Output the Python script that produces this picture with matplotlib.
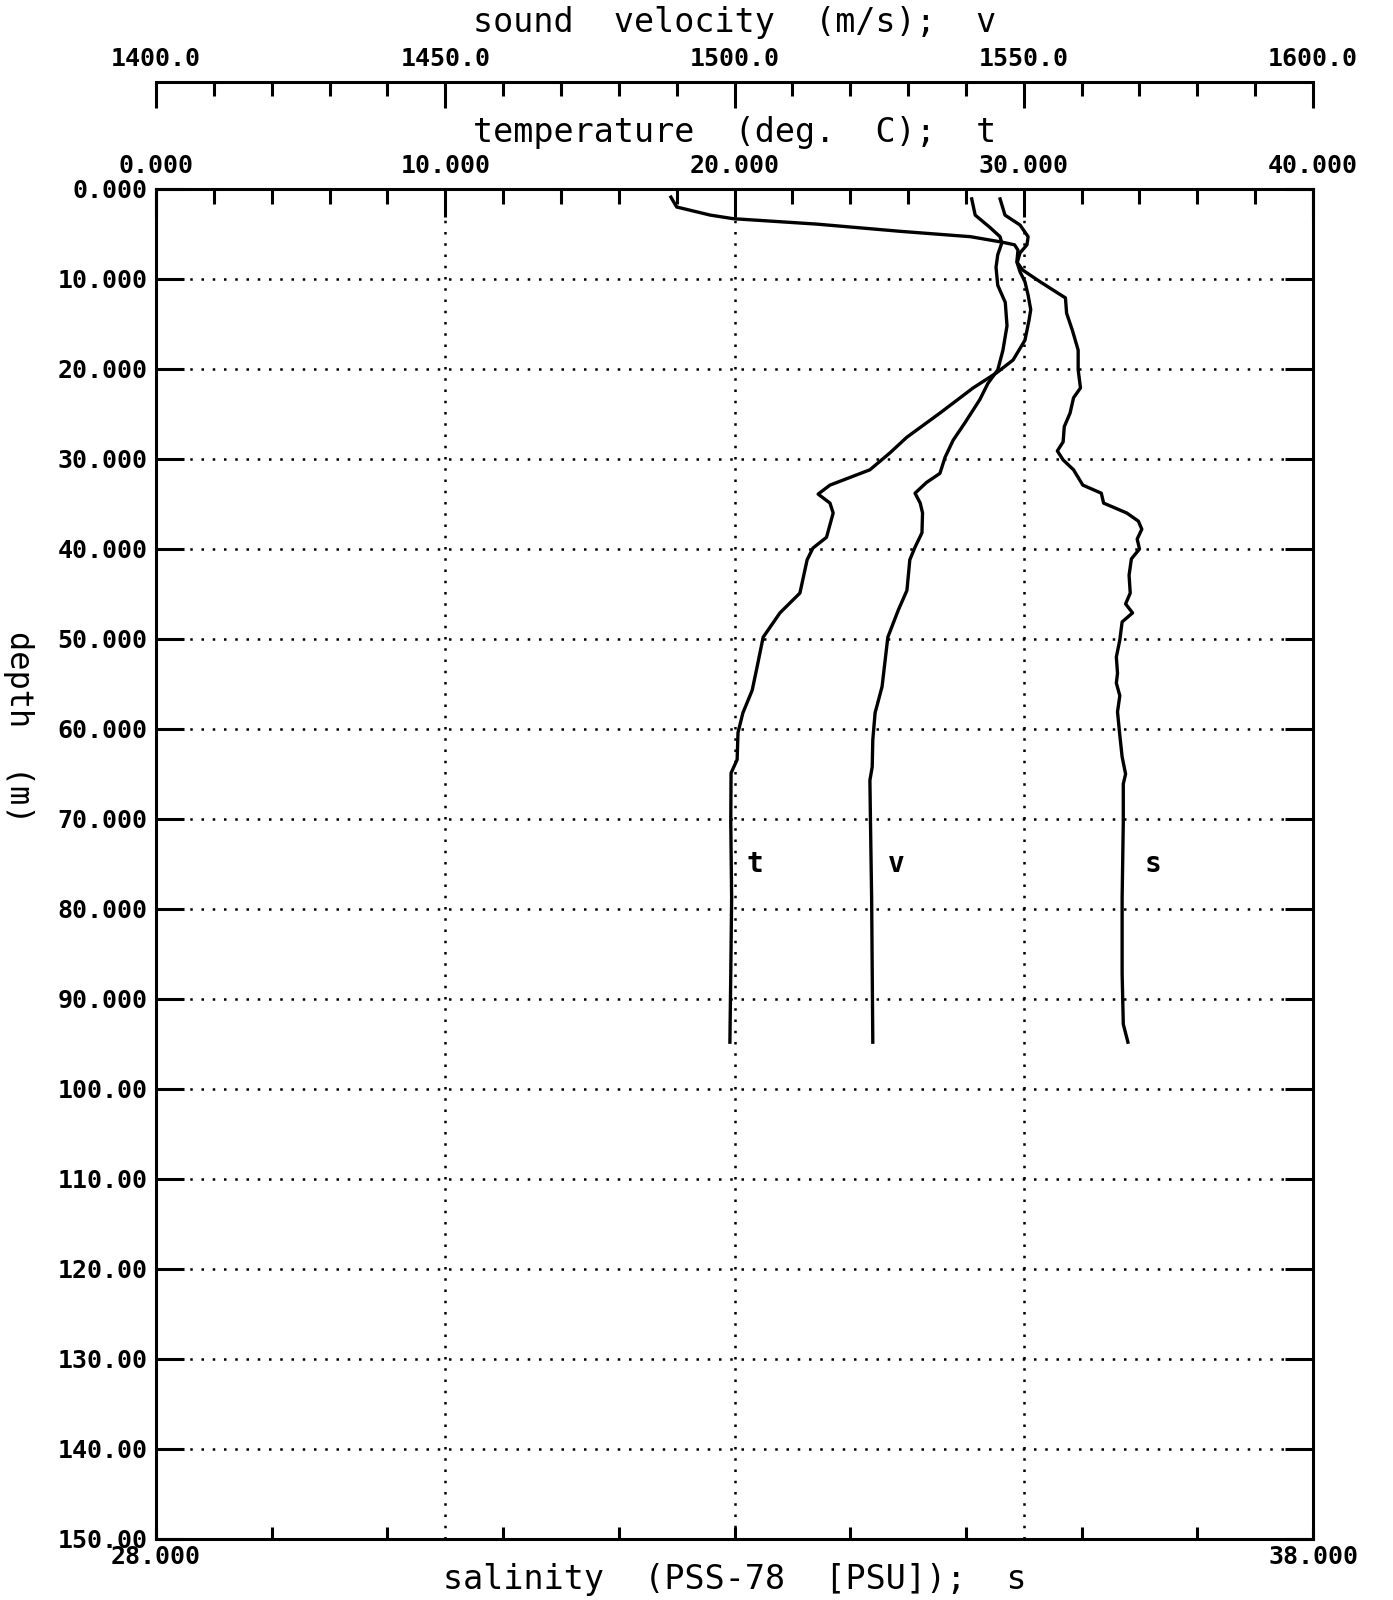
import numpy as np
import matplotlib
matplotlib.use("Agg")
import matplotlib.pyplot as plt
from matplotlib.ticker import MultipleLocator, FixedLocator, FuncFormatter

plt.rcParams['font.family'] = 'DejaVu Sans Mono'
plt.rcParams['font.weight'] = 'bold'

# temperature profile (deg C) against depth (m)
t_depth = [1.1, 2.9, 4.0, 5.3, 6.2, 7.1, 8.2, 9.2, 10.3, 11.8, 13.4, 14.6, 16.8, 19.0,
           20.4, 22.1, 24.9, 27.6, 29.3, 31.2, 32.9, 33.9, 34.9, 36.0, 38.7, 39.9, 41.2,
           44.9, 47.1, 49.8, 53.1, 55.7, 58.2, 60.4, 63.4, 64.9, 70.3, 78.8, 87.2, 94.8]
t_vals = [29.18, 29.35, 29.87, 30.15, 30.11, 29.87, 29.77, 29.87, 30.04, 30.15, 30.24, 30.18,
          30.04, 29.63, 29.07, 28.25, 27.10, 25.95, 25.38, 24.68, 23.30, 22.89, 23.30, 23.41,
          23.18, 22.71, 22.51, 22.26, 21.57, 20.99, 20.78, 20.61, 20.29, 20.12, 20.09, 19.88,
          19.87, 19.90, 19.87, 19.84]

# sound velocity (m/s)
v_depth = [1.1, 2.9, 4.3, 5.3, 6.0, 7.3, 8.7, 10.7, 12.6, 15.2, 17.9, 20.1, 21.6, 23.4,
           26.0, 27.9, 29.8, 31.6, 32.6, 33.8, 34.9, 36.0, 38.2, 39.8, 41.2, 44.6, 46.8,
           49.8, 55.3, 58.2, 61.2, 64.2, 65.7, 70.3, 78.8, 94.8]
v_vals = [1541.0, 1541.6, 1544.2, 1545.9, 1546.2, 1545.5, 1545.2, 1545.5, 1546.8, 1547.1,
          1546.4, 1545.5, 1543.8, 1542.4, 1539.8, 1537.8, 1536.4, 1535.5, 1533.2, 1531.2,
          1532.1, 1532.5, 1532.4, 1531.2, 1530.3, 1529.8, 1528.3, 1526.5, 1525.5, 1524.3,
          1523.9, 1523.8, 1523.4, 1523.5, 1523.7, 1523.9]

# salinity (PSU)
s_depth = [0.9, 2.0, 2.9, 3.3, 3.9, 4.7, 5.3, 5.9, 6.2, 6.8, 8.1, 9.0, 10.3, 12.1, 13.8,
           15.7, 17.9, 20.1, 22.1, 23.2, 24.9, 26.4, 28.1, 29.1, 30.1, 31.2, 32.9, 33.8,
           34.9, 36.0, 36.9, 37.8, 38.9, 40.0, 41.1, 42.9, 44.9, 46.1, 47.1, 48.1, 50.1,
           52.0, 53.8, 54.9, 56.3, 58.1, 60.7, 63.1, 65.0, 66.1, 70.3, 78.8, 87.2, 92.8, 94.8]
s_vals = [32.45, 32.50, 32.79, 32.99, 33.71, 34.43, 35.04, 35.31, 35.42, 35.45, 35.44, 35.49,
          35.64, 35.86, 35.87, 35.92, 35.97, 35.97, 35.99, 35.93, 35.90, 35.85, 35.84, 35.79,
          35.84, 35.93, 36.01, 36.17, 36.19, 36.39, 36.49, 36.52, 36.48, 36.50, 36.43, 36.41,
          36.42, 36.38, 36.44, 36.35, 36.33, 36.30, 36.31, 36.30, 36.33, 36.31, 36.33, 36.35,
          36.38, 36.36, 36.36, 36.35, 36.35, 36.36, 36.40]

depth_ticks = np.arange(0, 151, 10)
temp_ticks = [0, 10, 20, 30, 40]
vel_ticks = [1400, 1450, 1500, 1550, 1600]
sal_ticks = np.arange(28, 39, 1)
sal_labels = ['28.000'] + [''] * 9 + ['38.000']

lw = 2.2
fs = 18
fig = plt.figure(figsize=(13.93, 16), dpi=100)
ax = fig.add_axes([0.112, 0.038125, 0.8306, 0.84375])
ax_v = ax.twiny()   # sound velocity scale, above the temperature scale
ax_s = ax.twiny()   # salinity scale, on the bottom

# main axes: temperature on top, depth on left
ax.set_xlim(0, 40)
ax.set_ylim(150, 0)
for sp in ax.spines.values():
    sp.set_linewidth(lw)
ax.xaxis.set_ticks_position('top')
ax.xaxis.set_label_position('top')
ax.xaxis.set_major_locator(FixedLocator(temp_ticks))
ax.xaxis.set_minor_locator(MultipleLocator(2))
ax.xaxis.set_major_formatter(FuncFormatter(lambda x, p: f"{x:.3f}"))
ax.yaxis.set_major_locator(FixedLocator(depth_ticks))
ax.yaxis.set_major_formatter(FuncFormatter(lambda d, p: f"{d:.3f}" if d < 100 else f"{d:.2f}"))
ax.yaxis.set_ticks_position('both')
ax.tick_params(axis='x', which='major', direction='in', length=20, width=lw, pad=8,
               labelsize=fs, top=True, bottom=False, labeltop=True, labelbottom=False)
ax.tick_params(axis='x', which='minor', direction='in', length=11, width=lw,
               top=True, bottom=False)
ax.tick_params(axis='y', which='major', direction='in', length=20, width=lw, pad=6,
               labelsize=fs, labelleft=True, labelright=False)
ax.grid(True, which='major', color='black', linestyle=(0, (1, 3.5)), linewidth=1.8)

ax.plot(t_vals, t_depth, color='black', lw=2.4)
ax.annotate('t', xy=(t_vals[-1], 75), xytext=(18, 0), textcoords='offset points',
            ha='center', va='center', fontsize=20)

ax_v.set_xlim(1400, 1600)
for name in ['left', 'right', 'bottom']:
    ax_v.spines[name].set_visible(False)
ax_v.spines['top'].set_position(('axes', 1.0793))
ax_v.spines['top'].set_linewidth(lw)
ax_v.xaxis.set_ticks_position('top')
ax_v.xaxis.set_major_locator(FixedLocator(vel_ticks))
ax_v.xaxis.set_minor_locator(MultipleLocator(10))
ax_v.xaxis.set_major_formatter(FuncFormatter(lambda x, p: f"{x:.1f}"))
ax_v.tick_params(axis='x', which='major', direction='in', length=19, width=lw, pad=8,
                 labelsize=fs)
ax_v.tick_params(axis='x', which='minor', direction='in', length=10, width=lw)
ax_v.plot(v_vals, v_depth, color='black', lw=2.4)
ax_v.annotate('v', xy=(v_vals[-1], 75), xytext=(17, 0), textcoords='offset points',
              ha='center', va='center', fontsize=20)

ax_s.set_xlim(28, 38)
for sp in ax_s.spines.values():
    sp.set_visible(False)
ax_s.xaxis.set_ticks_position('bottom')
ax_s.xaxis.set_label_position('bottom')
ax_s.set_xticks(sal_ticks)
ax_s.set_xticklabels(sal_labels)
ax_s.tick_params(axis='x', which='major', direction='in', length=9, width=lw, pad=4,
                 labelsize=fs)
ax_s.plot(s_vals, s_depth, color='black', lw=2.4)
ax_s.annotate('s', xy=(s_vals[-1], 75), xytext=(18, 0), textcoords='offset points',
              ha='center', va='center', fontsize=20)

# axis titles
xc = 0.112 + 0.8306 / 2
fig.text(xc, 0.986, "sound  velocity  (m/s);  v", ha='center', va='center',
         fontsize=24, fontweight='normal')
fig.text(xc, 0.917, "temperature  (deg.  C);  t", ha='center', va='center',
         fontsize=24, fontweight='normal')
fig.text(xc, 0.0125, "salinity  (PSS-78  [PSU]);  s", ha='center', va='center',
         fontsize=24, fontweight='normal')
fig.text(0.013, 0.5456, "depth  (m)", ha='center', va='center', fontsize=23,
         fontweight='normal', rotation=270)

fig.savefig('out.png', dpi=100, facecolor='white')
